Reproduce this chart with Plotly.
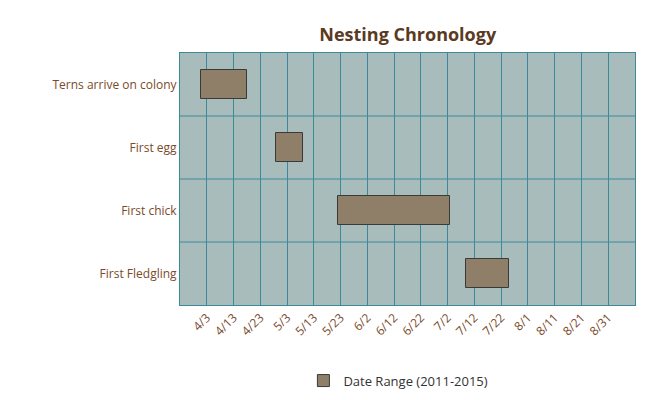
import pandas as pd
import plotly.graph_objects as go

stages = ["Terns arrive on colony", "First egg", "First chick", "First Fledgling"]
start_dates = ["2015-04-01", "2015-04-29", "2015-05-22", "2015-07-09"]
end_dates = ["2015-04-18", "2015-05-09", "2015-07-03", "2015-07-25"]
tick_dates = pd.date_range("2015-04-03", "2015-08-31", freq="10D")
tick_labels = [f"{d.month}/{d.day}" for d in tick_dates]

starts = pd.to_datetime(start_dates)
ends = pd.to_datetime(end_dates)
durations = [(e - s).total_seconds() * 1000 for s, e in zip(starts, ends)]

TEXT = "#7a4a2a"
GRID = "#3a8a9c"

fig = go.Figure()
fig.add_trace(go.Bar(
    y=list(range(len(stages))),
    x=durations,
    base=[s.strftime("%Y-%m-%d") for s in starts],
    orientation="h",
    width=0.45,
    marker=dict(color="#8f7f69", line=dict(color="#3a3a3a", width=1)),
    name="Date Range (2011-2015)",
    showlegend=True,
))

for b in [0.5, 1.5, 2.5]:
    fig.add_shape(type="line", xref="paper", x0=0, x1=1, yref="y", y0=b, y1=b,
                  line=dict(color=GRID, width=1), layer="below")

fig.update_xaxes(
    type="date",
    range=["2015-03-24", "2015-09-10"],
    tickvals=tick_dates, ticktext=tick_labels,
    tickangle=-45, showgrid=True, gridcolor=GRID, gridwidth=1,
    tickfont=dict(color=TEXT, size=12), zeroline=False,
    showline=True, linecolor=GRID, mirror=True, automargin=False,
)
fig.update_yaxes(
    range=[3.5, -0.5], tickvals=list(range(len(stages))), ticktext=stages,
    showgrid=False, zeroline=False, tickfont=dict(color=TEXT, size=12),
    showline=True, linecolor=GRID, mirror=True, ticksuffix="  ", automargin=False,
)
fig.update_layout(
    width=650, height=400,
    margin=dict(l=172, r=23, t=45, b=97),
    paper_bgcolor="white", plot_bgcolor="#a8bdbb",
    font=dict(family="Open Sans, Liberation Sans, sans-serif", color=TEXT),
    title=dict(text="<b>Nesting Chronology</b>", x=0.615, xanchor="center",
               y=0.95, font=dict(size=18, color="#5a3a22")),
    legend=dict(orientation="h", x=0.48, xanchor="center", y=-0.3, yanchor="middle",
                font=dict(size=13, color="#333333")),
    bargap=0,
)

fig.write_html("out.html")
